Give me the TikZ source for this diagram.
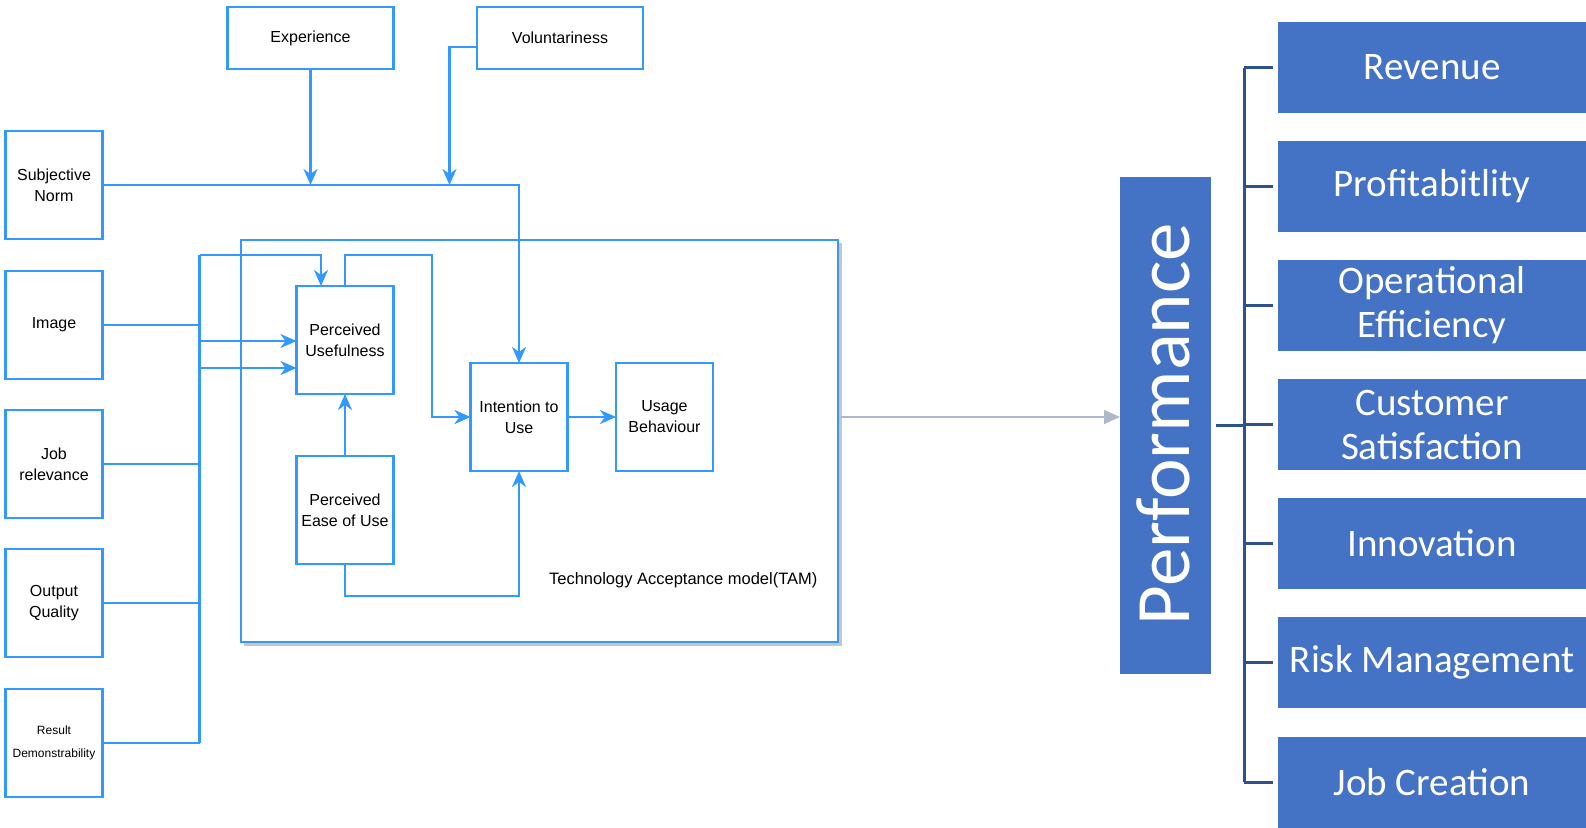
\documentclass[tikz,border=0pt]{standalone}
\usepackage{fontspec}
\setmainfont{Liberation Sans}
\newfontfamily\calib{Carlito}
\usetikzlibrary{arrows.meta,positioning}
\definecolor{lblue}{HTML}{3399FF}
\definecolor{obox}{HTML}{4472C4}
\definecolor{obrk}{HTML}{2F528F}
\definecolor{garr}{HTML}{ADB9CA}
\tikzset{
  bx/.style={draw=lblue,line width=2.5pt,minimum width=97pt,minimum height=108pt,inner sep=0pt,outer sep=0pt,align=center,font=\fontsize{16}{21}\selectfont},
  topbx/.style={bx,minimum width=166pt,minimum height=62pt},
  ln/.style={draw=lblue,line width=2.6pt},
  arr/.style={ln,-{Stealth[length=16pt,width=14pt,inset=5pt]}},
  rbox/.style={fill=obox,minimum width=308pt,minimum height=91pt,inner sep=0pt,outer sep=0pt,align=center,text=white,font=\calib\fontsize{39}{44}\selectfont},
  brk/.style={draw=obrk,line width=3pt},
}
\begin{document}
\begin{tikzpicture}[x=1pt,y=-1pt]
\useasboundingbox (0,0) rectangle (1586,827);
% TAM frame with shadow
\fill[gray!45] (244,243) rectangle (842,646);
\node[draw=lblue,fill=white,line width=2.5pt,minimum width=597pt,minimum height=402pt,inner sep=0pt,outer sep=0pt] (tam) at (539.5,441) {};
\node[anchor=east,font=\fontsize{16.5}{20}\selectfont] (tamlbl) at (821,580) {Technology Acceptance model(TAM)};
% top boxes
\node[topbx] (exp) at (310.5,38) {Experience};
\node[topbx] (vol) at (560,38) {Voluntariness};
% left boxes
\node[bx] (sn) at (54,185) {Subjective\\Norm};
\node[bx] (img) at (54,325) {Image};
\node[bx] (jr) at (54,464) {Job\\relevance};
\node[bx] (oq) at (54,603) {Output\\Quality};
\node[bx,font=\fontsize{12}{23}\selectfont] (rd) at (54,743) {Result\\Demonstrability};
% TAM inner boxes
\node[bx] (pu) at (345,340) {Perceived\\Usefulness};
\node[bx] (peou) at (345,510) {Perceived\\Ease of Use};
\node[bx] (itu) at (519,417) {Intention to\\Use};
\node[bx] (ub) at (664.5,417) {Usage\\Behaviour};
% coordinates
\coordinate (bt) at (199.5,255);
\coordinate (bb) at (199.5,743);
\coordinate (expj) at (310.5,185);
\coordinate (volj) at (449.5,185);
\coordinate (puin) at (321,255);
\coordinate (putop) at (432,255);
\coordinate (peoub) at (519,596);
\coordinate (pa1) at (199.5,341);
\coordinate (pa2) at (199.5,368);
% connectors
\draw[arr] (sn.east) -| (itu.north);
\draw[arr] (exp.south) -- (expj);
\draw[arr] ([yshift=-9pt]vol.west) -| (volj);
\draw[ln] (bt) -- (bb);
\draw[ln] (img.east) -- (img.east -| bt);
\draw[ln] (jr.east) -- (jr.east -| bt);
\draw[ln] (oq.east) -- (oq.east -| bt);
\draw[ln] (rd.east) -- (bb);
\draw[arr] (bt) -| (puin |- pu.north);
\draw[arr] (pa1) -- (pu.west |- pa1);
\draw[arr] (pa2) -- (pu.west |- pa2);
\draw[arr] (pu.north) |- (putop) |- (itu.west);
\draw[arr] (peou.north) -- (pu.south);
\draw[arr] (peou.south) |- (peoub) -- (itu.south);
\draw[arr] (itu.east) -- (ub.west);
% performance
\node[fill=obox,minimum width=91pt,minimum height=497pt,inner sep=0pt,outer sep=0pt] (perf) at (1165.5,425) {};
\node[rotate=90,text=white,font=\calib\fontsize{77}{80}\selectfont,anchor=base] (perftxt) at (1189,424) {Performance};
\draw[draw=garr,line width=1.5pt,-{Triangle[length=16pt,width=14pt]}] ([xshift=3pt]tam.east |- itu.east) -- (perf.west |- itu.east);
% right boxes
\node[rbox] (r1) at (1432,67.5) {Revenue};
\node[rbox] (r2) at (1432,186.5) {Profitabitlity};
\node[rbox] (r3) at (1432,305.5) {Operational\\Efficiency};
\node[rbox] (r4) at (1432,424.5) {Customer\\Satisfaction};
\node[rbox] (r5) at (1432,543.5) {Innovation};
\node[rbox] (r6) at (1432,662.5) {Risk Management};
\node[rbox] (r7) at (1432,782) {Job Creation};
\coordinate (bk) at (1244,425);
\draw[brk] ([xshift=5pt]perf.east |- bk) -- (bk);
\draw[brk] (bk |- r1.west) -- (bk |- r7.west);
\foreach \r in {r1,r2,r3,r4,r5,r6,r7}
  \draw[brk,shorten >=5pt] (bk |- \r.west) -- (\r.west);
\end{tikzpicture}
\end{document}
